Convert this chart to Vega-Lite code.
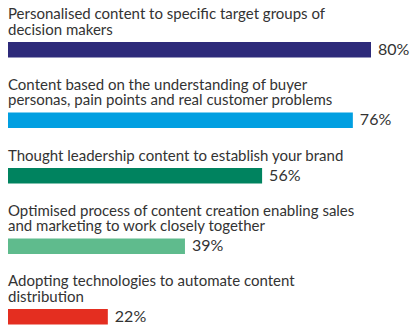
{
  "$schema": "https://vega.github.io/schema/vega-lite/v6.json",
  "background": "white",
  "padding": {"left": 8, "top": 7, "right": 0, "bottom": 0},
  "data": {
    "values": [
      {"label": "Personalised content to specific target groups of\ndecision makers", "share": 0.80},
      {"label": "Content based on the understanding of buyer\npersonas, pain points and real customer problems", "share": 0.76},
      {"label": "Thought leadership content to establish your brand", "share": 0.56},
      {"label": "Optimised process of content creation enabling sales\nand marketing to work closely together", "share": 0.39},
      {"label": "Adopting technologies to automate content\ndistribution", "share": 0.22}
    ]
  },
  "transform": [
    {"calculate": "split(datum.label, '\\n')", "as": "lines"},
    {"calculate": "peek(datum.lines)", "as": "lastLine"},
    {"calculate": "length(datum.lines) > 1 ? datum.lines[0] : ''", "as": "firstLine"}
  ],
  "facet": {
    "row": {
      "field": "label",
      "type": "nominal",
      "header": null,
      "sort": {"field": "share", "order": "descending"}
    }
  },
  "spacing": {"row": 19.5},
  "resolve": {"scale": {"y": "independent"}},
  "spec": {
    "width": 363,
    "height": 15.5,
    "encoding": {
      "y": {
        "field": "label",
        "type": "nominal",
        "axis": null,
        "scale": {"paddingInner": 0, "paddingOuter": 0}
      }
    },
    "layer": [
      {
        "mark": {"type": "bar"},
        "encoding": {
          "x": {
            "field": "share",
            "type": "quantitative",
            "axis": null,
            "scale": {"domain": [0, 0.8], "nice": false}
          },
          "color": {
            "field": "label",
            "type": "nominal",
            "legend": null,
            "sort": {"field": "share", "order": "descending"},
            "scale": {"range": ["#2d2a7a", "#019fe1", "#00835f", "#5fbb8d", "#e42e20"]}
          }
        }
      },
      {
        "mark": {
          "type": "text",
          "align": "left",
          "baseline": "middle",
          "dx": 7,
          "font": "Lato",
          "fontSize": 16,
          "color": "#333333"
        },
        "encoding": {
          "x": {"field": "share", "type": "quantitative"},
          "text": {"field": "share", "type": "quantitative", "format": ".0%"}
        }
      },
      {
        "mark": {
          "type": "text",
          "align": "left",
          "baseline": "alphabetic",
          "dy": -15.25,
          "font": "Lato",
          "fontSize": 15,
          "color": "#333333"
        },
        "encoding": {
          "x": {"datum": 0},
          "text": {"field": "lastLine", "type": "nominal"}
        }
      },
      {
        "transform": [{"filter": "datum.firstLine != ''"}],
        "mark": {
          "type": "text",
          "align": "left",
          "baseline": "alphabetic",
          "dy": -30.3,
          "font": "Lato",
          "fontSize": 15,
          "color": "#333333"
        },
        "encoding": {
          "x": {"datum": 0},
          "text": {"field": "firstLine", "type": "nominal"}
        }
      }
    ]
  },
  "config": {"view": {"stroke": null}}
}
